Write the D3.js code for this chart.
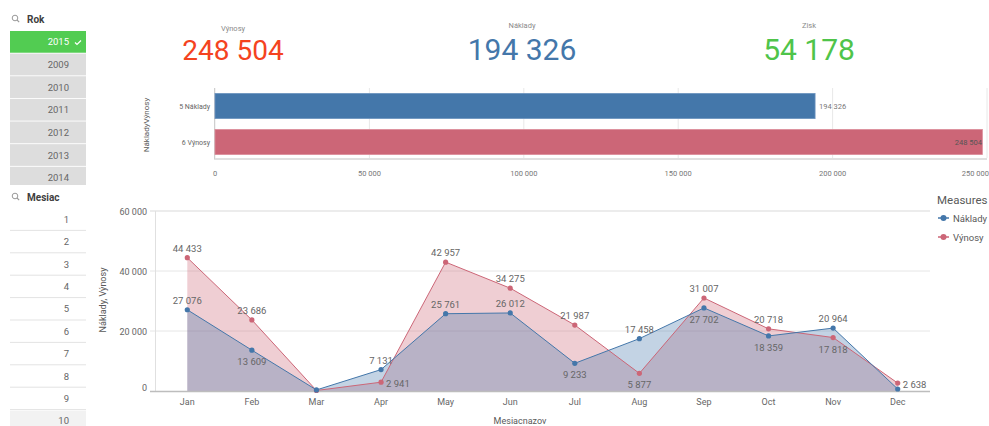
<!DOCTYPE html>
<html><head><meta charset="utf-8">
<script src="https://cdn.jsdelivr.net/npm/d3@7"></script>
<style>
html,body{margin:0;padding:0;background:#fff;}
svg{display:block;font-family:Roboto,"Noto Sans",sans-serif;}
</style></head>
<body>
<svg id="c" width="989" height="426"></svg>
<script>
// ---------- data ----------
const years = ["2015","2009","2010","2011","2012","2013","2014"];
const selectedYear = "2015";
const monthsList = ["1","2","3","4","5","6","7","8","9","10"];
const months = ["Jan","Feb","Mar","Apr","May","Jun","Jul","Aug","Sep","Oct","Nov","Dec"];
const naklady = [27076,13609,350,7131,25761,26012,9233,17458,27702,18359,20964,671];
const vynosy  = [44433,23686,167,2941,42957,34275,21987,5877,31007,20718,17818,2638];
const nakladyLabelPos = ["above","below","none","above","above","above","below","above","below","below","above","none"];
const vynosyLabelPos  = ["above","above","none","right","above","above","above","below","above","above","below","right"];
const kpiNames = ["Výnosy","Náklady","Zisk"];
const barCategories = ["5 Náklady","6 Výnosy"];
const barTicks = [0,50000,100000,150000,200000,250000];
const areaTicks = [0,20000,40000,60000];

const totalN = d3.sum(naklady), totalV = d3.sum(vynosy);
const kpiValues = [totalV, totalN, totalV - totalN];
const barValues = [totalN, totalV];

const BLUE = "#4477aa", RED = "#cc6677";
const fmtT = v => d3.format(",")(v).replace(/,/g, " ");

const svg = d3.select("#c");

// ---------- filter panes ----------
function searchIcon(x, y){
  svg.append("circle").attr("cx",x).attr("cy",y).attr("r",2.8).attr("fill","none").attr("stroke","#999").attr("stroke-width",1);
  svg.append("line").attr("x1",x+2).attr("y1",y+2).attr("x2",x+4.2).attr("y2",y+4.2).attr("stroke","#999").attr("stroke-width",1.1);
}
searchIcon(15,18);
svg.append("text").attr("x",27).attr("y",23).attr("font-size",10).attr("font-weight","bold").attr("fill","#404040").text("Rok");
const rowY = d3.scaleBand().domain(years).range([31, 31 + 22.5*years.length]).paddingInner(0.04);
const rokG = svg.append("g");
years.forEach(y => {
  const sel = y === selectedYear;
  rokG.append("rect").attr("x",10).attr("y",rowY(y)).attr("width",76).attr("height",Math.min(rowY.bandwidth(), 185 - rowY(y)))
    .attr("fill", sel ? "#52cc52" : "#dddddd");
  rokG.append("text").attr("x",69).attr("y",rowY(y)+rowY.bandwidth()/2+3.5).attr("text-anchor","end")
    .attr("font-size",9.5).attr("fill", sel ? "#fff" : "#666").text(y);
  if (sel) rokG.append("path").attr("d",`M75,${rowY(y)+11.5} l2,2 l4,-4`).attr("fill","none").attr("stroke","#fff").attr("stroke-width",1.2);
});

searchIcon(15,196);
svg.append("text").attr("x",27).attr("y",201).attr("font-size",10).attr("font-weight","bold").attr("fill","#404040").text("Mesiac");
const mY = d3.scaleBand().domain(monthsList).range([208, 208 + 22.4*monthsList.length]);
const mG = svg.append("g");
monthsList.forEach((m,i) => {
  if (i === monthsList.length-1) mG.append("rect").attr("x",10).attr("y",mY(m)+1).attr("width",76).attr("height",30).attr("fill","#f2f2f2");
  mG.append("text").attr("x",69).attr("y",mY(m)+mY.bandwidth()/2+3.5).attr("text-anchor","end")
    .attr("font-size",9.5).attr("fill","#666").text(m);
  if (i < monthsList.length-1) mG.append("line").attr("x1",10).attr("x2",86).attr("y1",mY(m)+mY.bandwidth()).attr("y2",mY(m)+mY.bandwidth()).attr("stroke","#e3e3e3");
});

// ---------- KPIs ----------
const kpiX = [233, 522, 809];
const kpiLabelY = [31, 28, 28];
const kpiSize = [28, 30, 30];
const kpiColor = ["#f4431f", BLUE, "#4fc44a"];
kpiNames.forEach((n,i) => {
  svg.append("text").attr("x",kpiX[i]).attr("y",kpiLabelY[i]).attr("text-anchor","middle").attr("font-size",7.5).attr("fill","#8a8a8a").text(n);
  svg.append("text").attr("x",kpiX[i]).attr("y",60).attr("text-anchor","middle").attr("font-size",kpiSize[i]).attr("fill",kpiColor[i]).text(fmtT(kpiValues[i]));
});

// ---------- bar chart ----------
const bx = d3.scaleLinear().domain([0,250000]).range([215,987]);
const by = d3.scaleBand().domain(barCategories).range([88,160]).paddingInner(0.3).paddingOuter(0.15);
const bg = svg.append("g");
barTicks.forEach(t => {
  bg.append("line").attr("x1",bx(t)).attr("x2",bx(t)).attr("y1",88).attr("y2",158).attr("stroke","#e8e8e8");
  bg.append("text").attr("x",bx(t)).attr("y",176).attr("text-anchor", t===250000?"end":"middle").attr("font-size",7.5).attr("fill","#777").text(fmtT(t)).attr("dx", t===250000?2:0);
});
bg.append("line").attr("x1",214).attr("x2",987).attr("y1",159).attr("y2",159).attr("stroke","#e0e0e0").attr("stroke-width",2);
bg.append("line").attr("x1",214.5).attr("x2",214.5).attr("y1",88).attr("y2",159).attr("stroke","#cfcfcf");
barCategories.forEach((c,i) => {
  bg.append("rect").attr("x",bx(0)).attr("y",by(c)).attr("width",bx(barValues[i])-bx(0)).attr("height",by.bandwidth())
    .attr("fill", i===0?BLUE:RED).attr("stroke", i===0?"#6f95c0":"#dc8f9b").attr("stroke-width",0.8);
  bg.append("text").attr("x",210).attr("y",by(c)+by.bandwidth()/2+3).attr("text-anchor","end").attr("font-size",7).attr("fill","#666").text(c);
});
bg.append("text").attr("x",bx(barValues[0])+4).attr("y",by(barCategories[0])+by.bandwidth()/2+3).attr("font-size",7.5).attr("fill","#777").text(fmtT(barValues[0]));
bg.append("text").attr("x",982).attr("y",by(barCategories[1])+by.bandwidth()/2+3).attr("text-anchor","end").attr("font-size",7.5).attr("fill","#555").text(fmtT(barValues[1]));
bg.append("text").attr("transform","translate(149,125) rotate(-90)").attr("text-anchor","middle").attr("font-size",8).attr("fill","#595959").text("NákladyVýnosy");

// ---------- area chart ----------
const ax = d3.scaleBand().domain(months).range([155,930]);
const ay = d3.scaleLinear().domain([0,60000]).range([391,211]);
const cx = m => ax(m) + ax.bandwidth()/2;
const ag = svg.append("g");
areaTicks.forEach(t => {
  if (t>0) ag.append("line").attr("x1",150).attr("x2",930).attr("y1",ay(t)).attr("y2",ay(t)).attr("stroke","#e6e6e6").attr("stroke-width", t===60000?1.5:1);
  ag.append("text").attr("x",147).attr("y",ay(t)+(t===0?0:3.5)).attr("text-anchor","end").attr("font-size",9).attr("fill","#666").text(fmtT(t));
});
ag.append("line").attr("x1",155.5).attr("x2",155.5).attr("y1",211).attr("y2",391).attr("stroke","#e0e0e0");
months.forEach(m => ag.append("text").attr("x",cx(m)).attr("y",405).attr("text-anchor","middle").attr("font-size",9).attr("fill","#666").text(m));
ag.append("text").attr("x",520).attr("y",424).attr("text-anchor","middle").attr("font-size",9).attr("fill","#595959").text("Mesiacnazov");
ag.append("text").attr("transform","translate(106,300) rotate(-90)").attr("text-anchor","middle").attr("font-size",9).attr("fill","#595959").text("Náklady, Výnosy");

const series = [
  {name:"Výnosy", vals:vynosy, color:RED, fill:"rgba(204,102,119,0.32)", pos:vynosyLabelPos},
  {name:"Náklady", vals:naklady, color:BLUE, fill:"rgba(68,119,170,0.32)", pos:nakladyLabelPos}
];
const area = d3.area().x((d,i)=>cx(months[i])).y0(ay(0)).y1(d=>ay(d));
const line = d3.line().x((d,i)=>cx(months[i])).y(d=>ay(d));
series.forEach(s => ag.append("path").attr("d",area(s.vals)).attr("fill",s.fill));
series.forEach(s => ag.append("path").attr("d",line(s.vals)).attr("fill","none").attr("stroke",s.color).attr("stroke-width",1));
ag.append("line").attr("x1",150).attr("x2",930).attr("y1",391.5).attr("y2",391.5).attr("stroke","#bdbdbd").attr("stroke-width",1.5);
series.forEach(s => {
  s.vals.forEach((v,i) => {
    ag.append("circle").attr("cx",cx(months[i])).attr("cy",ay(v)).attr("r",2.6).attr("fill",s.color);
  });
});
series.forEach(s => {
  s.vals.forEach((v,i) => {
    const p = s.pos[i]; if (p==="none") return;
    const x = cx(months[i]), y = ay(v);
    const t = ag.append("text").attr("font-size",9.5).attr("fill","#666").text(fmtT(v));
    if (p==="above") t.attr("x",x).attr("y",y-6).attr("text-anchor","middle");
    else if (p==="below") t.attr("x",x).attr("y",y+15).attr("text-anchor","middle");
    else t.attr("x",x+5).attr("y",y+5).attr("text-anchor","start");
  });
});

// legend
const lg = svg.append("g");
lg.append("text").attr("x",937).attr("y",204).attr("font-size",11.5).attr("fill","#595959").text("Measures");
[["Náklady",BLUE],["Výnosy",RED]].forEach((d,i) => {
  const y = 218 + i*19;
  lg.append("line").attr("x1",938).attr("x2",949).attr("y1",y).attr("y2",y).attr("stroke",d[1]).attr("stroke-width",1.5);
  lg.append("circle").attr("cx",943.5).attr("cy",y).attr("r",3).attr("fill",d[1]);
  lg.append("text").attr("x",953).attr("y",y+3.5).attr("font-size",9.5).attr("fill","#595959").text(d[0]);
});
</script>
</body></html>
